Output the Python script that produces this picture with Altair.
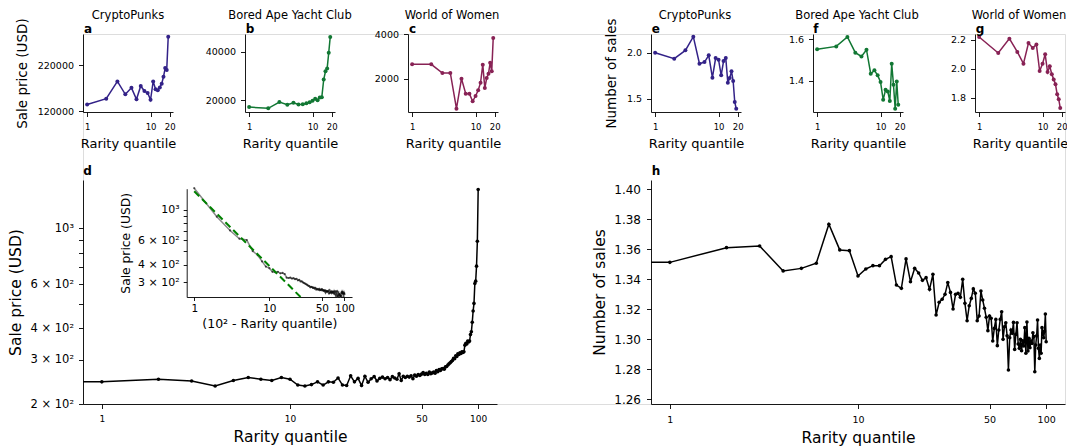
import altair as alt
import pandas as pd

FONT = "DejaVu Sans"

# ---------------- data ----------------
small_quantiles = list(range(1, 20))
cp_price = [135000, 147500, 185000, 157000, 171000, 146000, 175000, 164000, 160000, 145000,
            185000, 168000, 166000, 172000, 180000, 195000, 214000, 210000, 282000]
bayc_price = [17200, 16700, 19300, 18200, 19000, 18300, 18400, 18800, 19200, 19800,
              20600, 20000, 21200, 21300, 28600, 32000, 33200, 39700, 46200]
wow_price = [2647, 2647, 2256, 2256, 647, 2000, 1323, 1323, 977, 1218,
             1474, 1820, 2632, 1579, 2030, 2226, 2722, 2330, 3835]
cp_sales = [2.000, 1.935, 2.025, 2.174, 1.880, 1.898, 1.971, 1.728, 1.942, 1.924,
            1.754, 1.909, 1.942, 1.674, 1.725, 1.797, 1.692, 1.464, 1.390]
bayc_sales = [1.552, 1.566, 1.611, 1.536, 1.518, 1.550, 1.435, 1.451, 1.427, 1.395,
              1.310, 1.358, 1.350, 1.304, 1.483, 1.382, 1.267, 1.398, 1.286]
wow_sales = [2.218, 2.108, 2.207, 2.115, 2.034, 2.177, 2.143, 2.166, 1.984, 2.034,
             2.099, 1.977, 2.016, 1.961, 1.926, 1.892, 1.823, 1.789, 1.729]

quantiles = list(range(1, 101))
price_all = [245, 251, 247, 236, 248, 255, 251, 248, 255, 251,
             238, 236, 239, 245, 238, 245, 244, 254, 238, 237,
             259, 245, 253, 237, 258, 244, 252, 257, 247, 253,
             256, 252, 255, 250, 257, 254, 251, 264, 248, 258,
             255, 258, 256, 259, 252, 261, 258, 262, 260, 263,
             267, 262, 265, 262, 268, 264, 266, 268, 265, 272,
             269, 274, 272, 276, 277, 275, 281, 282, 286, 289,
             292, 295, 298, 304, 303, 311, 309, 317, 315, 320,
             318, 323, 321, 323, 343, 349, 347, 356, 353, 356,
             378, 388, 423, 469, 503, 604, 617, 708, 890, 1430]
sales_all = [1.3513, 1.3611, 1.3622, 1.3456, 1.3473, 1.3507, 1.3767, 1.3596, 1.3591, 1.3422,
             1.3469, 1.3491, 1.3491, 1.3533, 1.3551, 1.3362, 1.3340, 1.3536, 1.3384, 1.3473,
             1.3442, 1.3393, 1.3411, 1.3333, 1.3433, 1.3162, 1.3247, 1.3267, 1.3300, 1.3378,
             1.3313, 1.3202, 1.3300, 1.3307, 1.3280, 1.3400, 1.3240, 1.3124, 1.3224, 1.3273,
             1.3336, 1.3307, 1.3124, 1.3156, 1.3322, 1.3262, 1.3207, 1.3147, 1.3058, 1.3156,
             1.3140, 1.2989, 1.3073, 1.3133, 1.2958, 1.3062, 1.3133, 1.3184, 1.3000, 1.3084,
             1.3111, 1.3024, 1.2796, 1.3011, 1.3062, 1.3040, 1.3113, 1.2933, 1.3033, 1.3111,
             1.2969, 1.2940, 1.3000, 1.2924, 1.2991, 1.2956, 1.3078, 1.2907, 1.3116, 1.2922,
             1.3007, 1.2944, 1.2989, 1.2973, 1.3044, 1.3018, 1.2784, 1.2962, 1.3024, 1.3129,
             1.2940, 1.2873, 1.2962, 1.2907, 1.3078, 1.3040, 1.3011, 1.3056, 1.3169, 1.2984]
# quantile-0 bin (drawn only as the line running in from the left edge)
price_q0 = 245
sales_q0 = 1.3513

# power-law fit shown in the inset
fit_a = 1360
fit_b = -0.54

panel_titles = ["CryptoPunks", "Bored Ape Yacht Club", "World of Women",
                "CryptoPunks", "Bored Ape Yacht Club", "World of Women"]
panel_letters = ["a", "b", "c", "e", "f", "g", "d", "h"]

INDIGO, GREEN, WINE = "#332288", "#117733", "#882255"

# ---------------- geometry (pixels inside the plot area) ----------------
W, H = 982, 370
SMALL_X = [(0, 90), (162, 252), (325, 415), (568, 658), (730, 820), (892, 982)]
SMALL_Y = (78, 0)
BIG_Y = (370, 146)
D_X = (0, 414)
H_X = (568, 982)
INSET_X = (103.7, 269)
INSET_Y = (263, 154.7)
SMALL_XDOM = [0.86, 22.6]
BIG_XDOM = [0.794, 125.9]
INSET_YDOM = [234, 1419]


def mk_axis(orient, offset, title, values, fmt=None, label_expr=None, label_size=9,
            title_size=13.5, tick=4.5, label_pad=4, title_pad=6):
    kw = dict(orient=orient, offset=offset, values=values, labelFont=FONT,
              labelFontSize=label_size, labelColor="black", titleFont=FONT,
              titleFontSize=title_size, titleFontWeight="normal", titleColor="black",
              titlePadding=title_pad, tickSize=tick, tickWidth=0.9, tickColor="black",
              domainColor="black", domainWidth=0.9, labelPadding=label_pad, grid=False,
              labelFlush=False, labelOverlap=False, title=title)
    if fmt:
        kw["format"] = fmt
    if label_expr:
        kw["labelExpr"] = label_expr
    return alt.Axis(**kw)


def small_panel(values, color, xr, ydom, yticks, yfmt, ytitle):
    df = pd.DataFrame({"quantile": small_quantiles, "value": values})
    xenc = alt.X("quantile:Q",
                 scale=alt.Scale(type="log", domain=SMALL_XDOM, range=list(xr), nice=False),
                 axis=mk_axis("bottom", -(H - SMALL_Y[0]), "Rarity quantile", [1, 10, 20],
                              fmt="d", label_size=8.5, title_size=13, label_pad=6, title_pad=6))
    yenc = alt.Y("value:Q",
                 scale=alt.Scale(domain=ydom, range=list(SMALL_Y), nice=False, zero=False),
                 axis=mk_axis("left", -xr[0], ytitle, yticks, fmt=yfmt, label_size=9.5,
                              title_size=13.5, label_pad=5, title_pad=8))
    base = alt.Chart(df).encode(x=xenc, y=yenc)
    return alt.layer(base.mark_line(color=color, strokeWidth=1.5),
                     base.mark_point(color=color, filled=True, size=16, opacity=1))


pa = small_panel(cp_price, INDIGO, SMALL_X[0], [118500, 288000], [120000, 220000], "d", "Sale price (USD)")
pb = small_panel(bayc_price, GREEN, SMALL_X[1], [15160, 47450], [20000, 40000], "d", None)
pc = small_panel(wow_price, WINE, SMALL_X[2], [497, 4014], [2000, 4000], "d", None)
pe = small_panel(cp_sales, INDIGO, SMALL_X[3], [1.355, 2.203], [1.5, 2.0], ".1f", "Number of sales")
pf = small_panel(bayc_sales, GREEN, SMALL_X[4], [1.2513, 1.6254], [1.4, 1.6], ".1f", None)
pg = small_panel(wow_sales, WINE, SMALL_X[5], [1.701, 2.239], [1.8, 2.0, 2.2], ".1f", None)

# ---------------- panel d ----------------
df_d = pd.DataFrame({"quantile": quantiles, "price": price_all})
df_d_line = pd.DataFrame({"quantile": [0] + quantiles, "price": [price_q0] + price_all})
sci_expr = ("datum.value == 1000 ? '10³' : (indexof([200, 300, 400, 600], datum.value) >= 0 ? "
            "(datum.value / 100) + ' × 10²' : '')")
d_xs = alt.Scale(type="log", domain=BIG_XDOM, range=list(D_X), nice=False, clamp=True)
d_ys = alt.Scale(type="log", domain=[200, 1560], range=list(BIG_Y), nice=False)
d_xa = mk_axis("bottom", 0, "Rarity quantile", [1, 10, 50, 100], fmt="d", label_size=9,
               title_size=15.5, label_pad=6, title_pad=6)
d_ya = mk_axis("left", 0, "Sale price (USD)", [200, 300, 400, 500, 600, 700, 800, 900, 1000],
               label_expr=sci_expr, label_size=11.5, title_size=15.5, label_pad=5, title_pad=6)
d_line = alt.Chart(df_d_line).transform_calculate(xq="max(datum.quantile, 0.001)").mark_line(
    color="black", strokeWidth=1.5).encode(
    x=alt.X("xq:Q", scale=d_xs, axis=d_xa), y=alt.Y("price:Q", scale=d_ys, axis=d_ya))
d_pts = alt.Chart(df_d).mark_point(filled=True, color="black", size=13, opacity=1).encode(
    x=alt.X("quantile:Q", scale=d_xs, axis=d_xa), y=alt.Y("price:Q", scale=d_ys, axis=d_ya))
panel_d = alt.layer(d_line, d_pts)

# ---------------- inset ----------------
i_xs = alt.Scale(type="log", domain=BIG_XDOM, range=list(INSET_X), nice=False)
i_ys = alt.Scale(type="log", domain=INSET_YDOM, range=list(INSET_Y), nice=False)
i_xa = mk_axis("bottom", -(H - INSET_Y[0]), "(10² - Rarity quantile)", [1, 10, 50, 100], fmt="d",
               label_size=10.5, title_size=12.5, tick=3.5, label_pad=3, title_pad=3)
i_ya = mk_axis("left", -INSET_X[0], "Sale price (USD)", [300, 400, 500, 600, 700, 800, 900, 1000],
               label_expr=sci_expr, label_size=11, title_size=12.3, tick=3.5, label_pad=4, title_pad=5)
inset_base = alt.Chart(df_d).transform_calculate(rank="101 - datum.quantile")
inset_line = inset_base.mark_line(color="#8a8a8a", strokeWidth=1.5).encode(
    x=alt.X("rank:Q", scale=i_xs, axis=i_xa), y=alt.Y("price:Q", scale=i_ys, axis=i_ya))
inset_pts = inset_base.mark_point(filled=True, color="black", size=5, opacity=0.6).encode(
    x=alt.X("rank:Q", scale=i_xs, axis=i_xa), y=alt.Y("price:Q", scale=i_ys, axis=i_ya))
fit_end = (fit_a / INSET_YDOM[0]) ** (1 / -fit_b)
fit_df = pd.DataFrame({"rank": [1, fit_end]})
fit_line = alt.Chart(fit_df).transform_calculate(
    price=f"{fit_a} * pow(datum.rank, {fit_b})").mark_line(
    color="#008000", strokeDash=[7, 4], strokeWidth=2).encode(
    x=alt.X("rank:Q", scale=i_xs, axis=i_xa), y=alt.Y("price:Q", scale=i_ys, axis=i_ya))
panel_inset = alt.layer(inset_line, inset_pts, fit_line)

# ---------------- panel h ----------------
df_h = pd.DataFrame({"quantile": quantiles, "sales": sales_all})
df_h_line = pd.DataFrame({"quantile": [0] + quantiles, "sales": [sales_q0] + sales_all})
h_xs = alt.Scale(type="log", domain=BIG_XDOM, range=list(H_X), nice=False, clamp=True)
h_ys = alt.Scale(domain=[1.2569, 1.4062], range=list(BIG_Y), nice=False, zero=False)
h_xa = mk_axis("bottom", 0, "Rarity quantile", [1, 10, 50, 100], fmt="d", label_size=9.5,
               title_size=15.5, label_pad=6, title_pad=6)
h_ya = mk_axis("left", -H_X[0], "Number of sales", [1.26, 1.28, 1.30, 1.32, 1.34, 1.36, 1.38, 1.40],
               fmt=".2f", label_size=12, title_size=15.5, label_pad=6, title_pad=6)
h_line = alt.Chart(df_h_line).transform_calculate(xq="max(datum.quantile, 0.001)").mark_line(
    color="black", strokeWidth=1.5).encode(
    x=alt.X("xq:Q", scale=h_xs, axis=h_xa), y=alt.Y("sales:Q", scale=h_ys, axis=h_ya))
h_pts = alt.Chart(df_h).mark_point(filled=True, color="black", size=13, opacity=1).encode(
    x=alt.X("quantile:Q", scale=h_xs, axis=h_xa), y=alt.Y("sales:Q", scale=h_ys, axis=h_ya))
panel_h = alt.layer(h_line, h_pts)

# ---------------- text annotations ----------------
title_x = [45, 207, 369, 612, 774, 936]
letter_pos = [(1, -1.5), (162.7, -1.5), (326, -1.5), (568.7, -1.5), (730.3, -1.5), (892.7, -1.5),
              (0.3, 141.3), (568.7, 141.3)]
texts = []
for name, x in zip(panel_titles, title_x):
    texts.append(alt.Chart(pd.DataFrame({"label": [name]})).mark_text(
        font=FONT, fontSize=11.5, align="center", baseline="alphabetic", color="black").encode(
        x=alt.value(x), y=alt.value(-15), text="label:N"))
for letter, (x, y) in zip(panel_letters, letter_pos):
    texts.append(alt.Chart(pd.DataFrame({"label": [letter]})).mark_text(
        font=FONT, fontSize=12, fontWeight="bold", align="left", baseline="alphabetic",
        color="black").encode(x=alt.value(x), y=alt.value(y), text="label:N"))

chart = alt.layer(pa, pb, pc, pe, pf, pg, panel_d, panel_inset, panel_h, *texts).resolve_scale(
    x="independent", y="independent").properties(
    width=W, height=H,
    autosize=alt.AutoSizeParams(type="none"),
    padding={"left": 75, "top": 26, "right": 2, "bottom": 44},
).configure_view(strokeOpacity=0).configure(font=FONT)

chart.save("out.html", embed_options={"renderer": "svg", "actions": False})
